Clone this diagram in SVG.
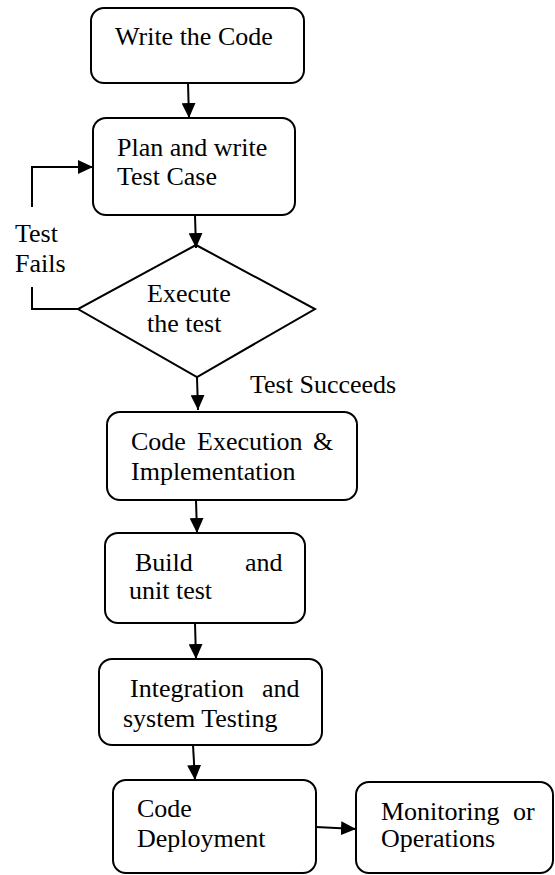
<svg xmlns="http://www.w3.org/2000/svg" width="555" height="875" viewBox="0 0 555 875">
<defs>
<marker id="ah" markerWidth="16" markerHeight="14" refX="15" refY="7" orient="auto" markerUnits="userSpaceOnUse">
<path d="M0,0 L15,7 L0,14 Z" fill="#000"/>
</marker>
</defs>
<rect width="555" height="875" fill="#fff"/>
<g id="n1" fill="#fff" stroke="#000" stroke-width="2"><rect x="91" y="8" width="213" height="75" rx="13"/></g>
<g id="n2" fill="#fff" stroke="#000" stroke-width="2"><rect x="93" y="118" width="202" height="97" rx="13"/></g>
<g id="n3" fill="#fff" stroke="#000" stroke-width="2"><polygon points="196,245 315,309 197,377 78,309"/></g>
<g id="n4" fill="#fff" stroke="#000" stroke-width="2"><rect x="107" y="412" width="250" height="88" rx="13"/></g>
<g id="n5" fill="#fff" stroke="#000" stroke-width="2"><rect x="105" y="533" width="200" height="90" rx="13"/></g>
<g id="n6" fill="#fff" stroke="#000" stroke-width="2"><rect x="99" y="659" width="223" height="86" rx="13"/></g>
<g id="n7" fill="#fff" stroke="#000" stroke-width="2"><rect x="113" y="780" width="203" height="93" rx="13"/></g>
<g id="n8" fill="#fff" stroke="#000" stroke-width="2"><rect x="356" y="782" width="197" height="91" rx="13"/></g>
<text x="115" y="45" font-family="Liberation Serif" font-size="26">Write the Code</text>
<text x="117" y="156" font-family="Liberation Serif" font-size="26">Plan and write</text>
<text x="117" y="185" font-family="Liberation Serif" font-size="26">Test Case</text>
<text x="147" y="302" font-family="Liberation Serif" font-size="26">Execute</text>
<text x="147" y="332" font-family="Liberation Serif" font-size="26">the test</text>
<text y="450" font-family="Liberation Serif" font-size="26"><tspan x="131">Code</tspan><tspan x="197">Execution</tspan><tspan x="313">&amp;</tspan></text>
<text x="131" y="480" font-family="Liberation Serif" font-size="26">Implementation</text>
<text y="571" font-family="Liberation Serif" font-size="26"><tspan x="135">Build</tspan><tspan x="245">and</tspan></text>
<text x="129" y="599" font-family="Liberation Serif" font-size="26">unit test</text>
<text y="697" font-family="Liberation Serif" font-size="26"><tspan x="130">Integration</tspan><tspan x="262">and</tspan></text>
<text x="123" y="727" font-family="Liberation Serif" font-size="26">system Testing</text>
<text x="137" y="817" font-family="Liberation Serif" font-size="26">Code</text>
<text x="137" y="847" font-family="Liberation Serif" font-size="26">Deployment</text>
<text y="820" font-family="Liberation Serif" font-size="26"><tspan x="381">Monitoring</tspan><tspan x="513">or</tspan></text>
<text x="381" y="847" font-family="Liberation Serif" font-size="26">Operations</text>
<text x="15" y="242" font-family="Liberation Serif" font-size="26">Test</text>
<text x="15" y="272" font-family="Liberation Serif" font-size="26">Fails</text>
<text x="250" y="393" font-family="Liberation Serif" font-size="26">Test Succeeds</text>
<g id="connectors" fill="none" stroke="#000" stroke-width="2">
<line x1="188" y1="83" x2="189" y2="118" marker-end="url(#ah)"/>
<line x1="195" y1="215" x2="196" y2="248" marker-end="url(#ah)"/>
<line x1="197" y1="377" x2="198" y2="410" marker-end="url(#ah)"/>
<line x1="196" y1="500" x2="197" y2="533" marker-end="url(#ah)"/>
<line x1="195" y1="623" x2="196" y2="659" marker-end="url(#ah)"/>
<line x1="193" y1="745" x2="195" y2="780" marker-end="url(#ah)"/>
<line x1="316" y1="827" x2="356" y2="829" marker-end="url(#ah)"/>
<polyline points="78,309 32,309 32,287"/>
<polyline points="32,207 32,167 93,167" marker-end="url(#ah)"/>
</g>
</svg>
